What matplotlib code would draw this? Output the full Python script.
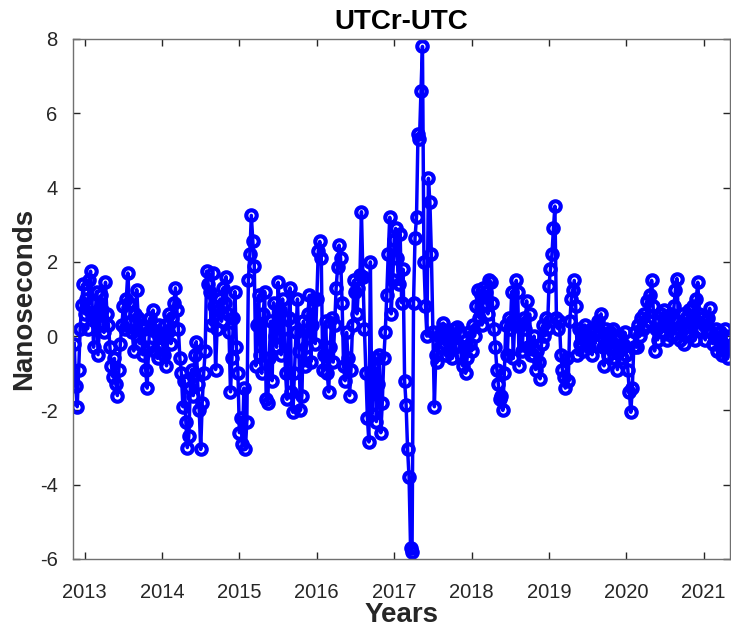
# plotting the UTCr-UTC difference with matplotlib, styled like a MATLAB figure
import numpy as np
import matplotlib
matplotlib.use("Agg")
import matplotlib.pyplot as plt

# weekly values in nanoseconds
start_year = 2013 - 7 / 52
week_step = 1 / 52

vals_2012 = [-0.2, -1.35, -1.9, -0.9, 0.2, 0.85, 1.4]

vals_2013 = [0.6, 1.0, 0.2, 1.5, 1.75, 0.9, -0.3, 0.5, 1.2, -0.5, 0.3,
             1.1, 0.7, 0.1, 1.45, 0.6,
             0.3, -0.3, -0.8, -1.1, -0.6, -1.3, -1.6, -0.9, -0.2,
             0.3, 0.8, 0.2, 1.0, 1.7, 0.9, 0.4,
             0.1, -0.4, 0.6, 1.25, 0.5, -0.2, 0.3, -0.5, 0.2,
             -0.9, -1.4, -0.3, 0.5, 0.2, 0.7, -0.4, 0.1, -0.6, 0.3, -0.2]

vals_2014 = [0.0, -0.5, 0.3, -0.8, 0.1, 0.6, -0.2, 0.5, 0.9, 1.3, 0.7, 0.2, -0.6,
             -1.0, -1.9, -1.2, -2.3, -3.0, -2.7, -1.4, -0.9, -1.6, -0.5, -0.15,
             -1.3, -2.0, -3.05, -1.8, -1.0, -0.4,
             1.75, 1.4, 1.2, 0.3, 1.7, 0.8,
             -0.9, 0.2, 0.7, 1.0, 0.4, 1.3, 0.9, 1.6, 0.6, 0.1,
             -1.5, -0.6, 0.5, 1.2, -0.3, -1.0]

vals_2015 = [-2.6, -2.2, -2.9, -1.4, -3.05, -2.3,
             1.5, 2.2, 3.25, 2.55, 1.9,
             -0.8, 0.3, 1.1, -0.5, -1.0, 0.6, 1.2, -1.7, -1.8,
             -0.6, 0.4, -1.2, 0.9, 0.0, -0.3, 1.45, 0.7,
             -0.5, 1.0, 0.2, -1.0, -1.7, 0.5, 1.3, -1.5, -2.05,
             -1.0, 0.1, 1.0, -0.4, -2.0, -1.6, 0.4, -0.8,
             -0.3, 0.6, 1.1, -0.7, 0.3, 1.0, -0.2]

vals_2016 = [1.0, 2.3, 2.55, 2.1, -0.9, -0.5,
             0.4, -1.0, -1.5, -0.3, 0.5, -0.7,
             0.3, 1.3, 1.85, 2.45, 2.1, 0.9,
             -0.8, -1.2, 0.1, -0.6, -1.6, -0.9,
             0.3, 1.5, 1.2, 0.6, 1.3, 1.65, 3.35,
             1.6, 0.2, -1.0, -2.2, -2.85, 2.0, -2.1, -1.0,
             -0.6, -2.3, -1.3, -0.5, -2.6, -1.8,
             -0.6, 0.1, 1.1, 2.2, 3.2, 0.6, 1.5]

vals_2017 = [2.6, 2.9, 2.1, 1.4, 2.75, 0.9, 1.8,
             -1.2, -1.85, -3.05, -3.8, -5.7, -5.8,
             0.9, 2.65, 3.2, 5.45, 5.3, 6.6, 7.8,
             2.0, 0.8, 0.0, 4.25, 3.6,
             2.2, 0.1, -1.9, -0.5,
             -0.7, 0.0, -0.3, 0.2, 0.35, -0.2, -0.5, 0.1, -0.4, -0.1, -0.6, 0.2,
             -0.3, 0.25, -0.2, 0.1, -0.5, -0.8, -0.3, -1.0, -0.6, 0.1, -0.2]

vals_2018 = [-0.4, 0.3, 0.0, 0.8, 1.25, 0.5, 1.1, 0.3, 1.3, 0.9, 1.2, 0.6, 1.5, 1.45,
             0.9, 0.2, -0.3, -0.9, -1.3, -1.7, -1.6, -2.0,
             -1.0, 0.3, -0.5, 0.5, 0.2, 1.2, -0.6, 0.4, 1.5, 1.2, -0.8,
             0.3, -0.4, 0.5, 0.2, 0.95, -0.3, 0.6, -0.5,
             -0.5, 0.0, -0.9, -0.4, -0.7, -1.15, -0.2, 0.3,
             0.0, 0.5, 0.2]

vals_2019 = [1.35, 1.8, 2.2, 2.9, 3.5,
             0.5, 0.2, 0.4, -0.5, -0.9, -1.1, -1.4, -0.6, -1.2, 0.4,
             1.0, 1.25, 1.5, 0.8, -0.5,
             0.2, -0.2, 0.1, -0.4, 0.3, -0.1, 0.0, -0.3, 0.2, -0.5, 0.1,
             -0.2, 0.3, 0.4, 0.1, 0.6, -0.3, -0.8, 0.2,
             -0.2, -0.5, 0.1, -0.3, 0.2, -0.6, -0.1, -0.9, -0.4, 0.0, -0.6, -0.2, 0.1]

vals_2020 = [-0.5, -0.9, -1.5, -2.05, -1.4, -0.3,
             0.1, -0.3, 0.3, 0.0, 0.5, 0.2, 0.6, 0.3, 0.95, 0.4, 1.1, 1.5, 0.8,
             -0.4, 0.2, -0.1, 0.4, 0.6, 0.1, 0.7, 0.3, -0.1, 0.5,
             0.2, 0.6, 0.0, 0.8, 1.25, 1.55, 0.4, -0.1,
             0.3, 0.6, -0.2, 0.1, 0.5, 0.7, 0.0, 0.4, 0.8, -0.1,
             1.0, 1.45, 0.6, 0.2, 0.5]

vals_2021 = [0.3, -0.1, 0.2, 0.5, 0.75, 0.1, -0.2, 0.0, 0.2, -0.4, -0.1, 0.1,
             -0.5, -0.2, 0.2, 0.0, -0.6, -0.3]

year_ticks = [2013, 2014, 2015, 2016, 2017, 2018, 2019, 2020, 2021]
ns_ticks = [-6, -4, -2, 0, 2, 4, 6, 8]

# joining the yearly pieces into one series and giving each point its week
values = np.array(vals_2012 + vals_2013 + vals_2014 + vals_2015 + vals_2016
                  + vals_2017 + vals_2018 + vals_2019 + vals_2020 + vals_2021)
years = start_year + np.arange(len(values)) * week_step

plt.rcParams["font.family"] = ["Liberation Sans", "DejaVu Sans"]
plt.rcParams["axes.unicode_minus"] = False
text_color = "#262626"

fig = plt.figure(figsize=(7.31, 6.28), dpi=100)
ax = fig.add_axes([0.0999, 0.1099, 0.8988, 0.828])

# blue line with hollow circle markers, like plot(x, y, 'b-o')
ax.plot(years, values, color="#0000ff", linewidth=2.5, marker="o",
        markersize=7.5, markerfacecolor="none", markeredgewidth=3.0,
        markeredgecolor="#0000ff")

ax.set_xlim(2012.85, 2021.34)
ax.set_ylim(-6, 8)
ax.set_xticks(year_ticks)
ax.set_yticks(ns_ticks)

# MATLAB look: ticks inside on all four sides, thin grey box
ax.tick_params(direction="in", length=5, width=1, top=True, right=True,
               labelsize=14.5, colors=text_color)
ax.tick_params(axis="x", pad=17)
ax.tick_params(axis="y", pad=11)
for spine in ax.spines.values():
    spine.set_color("#707070")
    spine.set_linewidth(1)

ax.set_title("UTCr-UTC", fontsize=20, fontweight="bold", color="black", pad=7)
ax.set_xlabel("Years", fontsize=20, fontweight="bold", color=text_color, labelpad=0)
ax.set_ylabel("Nanoseconds", fontsize=20, fontweight="bold", color=text_color, labelpad=2)

fig.savefig("out.png", dpi=100)
